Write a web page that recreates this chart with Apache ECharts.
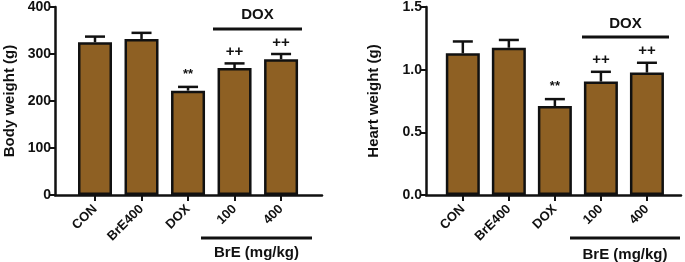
<!DOCTYPE html>
<html>
<head>
<meta charset="utf-8">
<script src="https://cdn.jsdelivr.net/npm/echarts@6/dist/echarts.min.js"></script>
<style>
  html, body { margin: 0; padding: 0; background: #fff; }
  #chart { width: 685px; height: 262px; }
</style>
</head>
<body>
<div id="chart"></div>
<script>
const groups = ["CON", "BrE400", "DOX", "100", "400"];
const bodyMean = [325, 332, 222, 270, 289];
const bodyErr = [12, 13, 8, 10, 11];
const heartMean = [1.13, 1.175, 0.71, 0.905, 0.977];
const heartErr = [0.095, 0.062, 0.055, 0.078, 0.078];
const sigMarks = ["", "", "**", "++", "++"];
const bodyTicks = [0, 100, 200, 300, 400];
const heartTicks = [0, 0.5, 1.0, 1.5];

const FONT = "Liberation Sans";
const BAR_COLOR = "#8e6023";
const idx = [0, 1, 2, 3, 4];

function xAxisFor(gridIndex, min, max) {
    return {
        type: "value",
        gridIndex: gridIndex,
        min: min,
        max: max,
        splitLine: { show: false },
        axisLine: { onZero: false, lineStyle: { color: "#111", width: 2.5 } },
        axisTick: { customValues: idx, length: 6, lineStyle: { color: "#111", width: 2 } },
        axisLabel: {
            customValues: idx,
            rotate: 45,
            margin: 12,
            fontFamily: FONT,
            fontWeight: "bold",
            fontSize: 13,
            color: "#111",
            formatter: (v) => groups[Math.round(v)],
        },
    };
}

function yAxisFor(gridIndex, ticks, name, gap, fmt) {
    return {
        type: "value",
        gridIndex: gridIndex,
        min: ticks[0],
        max: ticks[ticks.length - 1],
        interval: ticks[1] - ticks[0],
        name: name,
        nameLocation: "middle",
        nameGap: gap,
        nameTextStyle: { fontFamily: FONT, fontWeight: "bold", fontSize: 15, color: "#111" },
        splitLine: { show: false },
        axisLine: { show: true, onZero: false, lineStyle: { color: "#111", width: 2.5 } },
        axisTick: { show: true, length: 6, lineStyle: { color: "#111", width: 2 } },
        axisLabel: {
            fontFamily: FONT,
            fontWeight: "bold",
            fontSize: 14,
            color: "#111",
            margin: 4,
            formatter: fmt,
        },
    };
}

function barSeries(axis, means) {
    return {
        type: "bar",
        xAxisIndex: axis,
        yAxisIndex: axis,
        barWidth: 34,
        data: means.map((m, i) => [i, m]),
        itemStyle: { color: BAR_COLOR, borderColor: "#111", borderWidth: 2.5 },
        z: 2,
    };
}

function errSeries(axis, means, errs) {
    return {
        type: "custom",
        xAxisIndex: axis,
        yAxisIndex: axis,
        z: 3,
        data: means.map((m, i) => [i, m, errs[i]]),
        renderItem: function (params, api) {
            const x = api.value(0);
            const m = api.value(1);
            const e = api.value(2);
            const p0 = api.coord([x, m]);
            const p1 = api.coord([x, m + e]);
            const style = { stroke: "#111", lineWidth: 2.5 };
            const children = [
                { type: "line", shape: { x1: p0[0], y1: p0[1], x2: p1[0], y2: p1[1] }, style: style },
                { type: "line", shape: { x1: p1[0] - 10, y1: p1[1], x2: p1[0] + 10, y2: p1[1] }, style: style },
            ];
            const s = sigMarks[params.dataIndex];
            if (s) {
                children.push({
                    type: "text",
                    style: {
                        x: p1[0],
                        y: p1[1] - (s === "**" ? 6 : 4),
                        text: s,
                        align: "center",
                        verticalAlign: "bottom",
                        font: (s === "**" ? "bold 13px " : "bold 15px ") + FONT,
                        fill: "#111",
                    },
                });
            }
            return { type: "group", children: children };
        },
    };
}

function bracket(x1, x2, y, label, ty) {
    return [
        { type: "line", shape: { x1: x1, y1: y, x2: x2, y2: y }, style: { stroke: "#111", lineWidth: 3 } },
        {
            type: "text",
            x: (x1 + x2) / 2,
            y: ty,
            style: { text: label, align: "center", verticalAlign: "middle", font: "bold 15px " + FONT, fill: "#111" },
        },
    ];
}

const chart = echarts.init(document.getElementById("chart"));
chart.setOption({
    animation: false,
    grid: [
        { left: 55, right: 363, top: 5, bottom: 67 },
        { left: 426, right: 4, top: 5, bottom: 67 },
    ],
    xAxis: [xAxisFor(0, -0.86, 4.88), xAxisFor(1, -0.8, 4.74)],
    yAxis: [
        yAxisFor(0, bodyTicks, "Body weight (g)", 38, (v) => String(v)),
        yAxisFor(1, heartTicks, "Heart weight (g)", 45, (v) => v.toFixed(1)),
    ],
    series: [
        barSeries(0, bodyMean),
        errSeries(0, bodyMean, bodyErr),
        barSeries(1, heartMean),
        errSeries(1, heartMean, heartErr),
    ],
    graphic: [].concat(
        bracket(213, 302, 29, "DOX", 15),
        bracket(201, 312, 238, "BrE (mg/kg)", 253),
        bracket(582, 669, 37, "DOX", 24),
        bracket(570, 680, 238, "BrE (mg/kg)", 255)
    ),
});
</script>
</body>
</html>
